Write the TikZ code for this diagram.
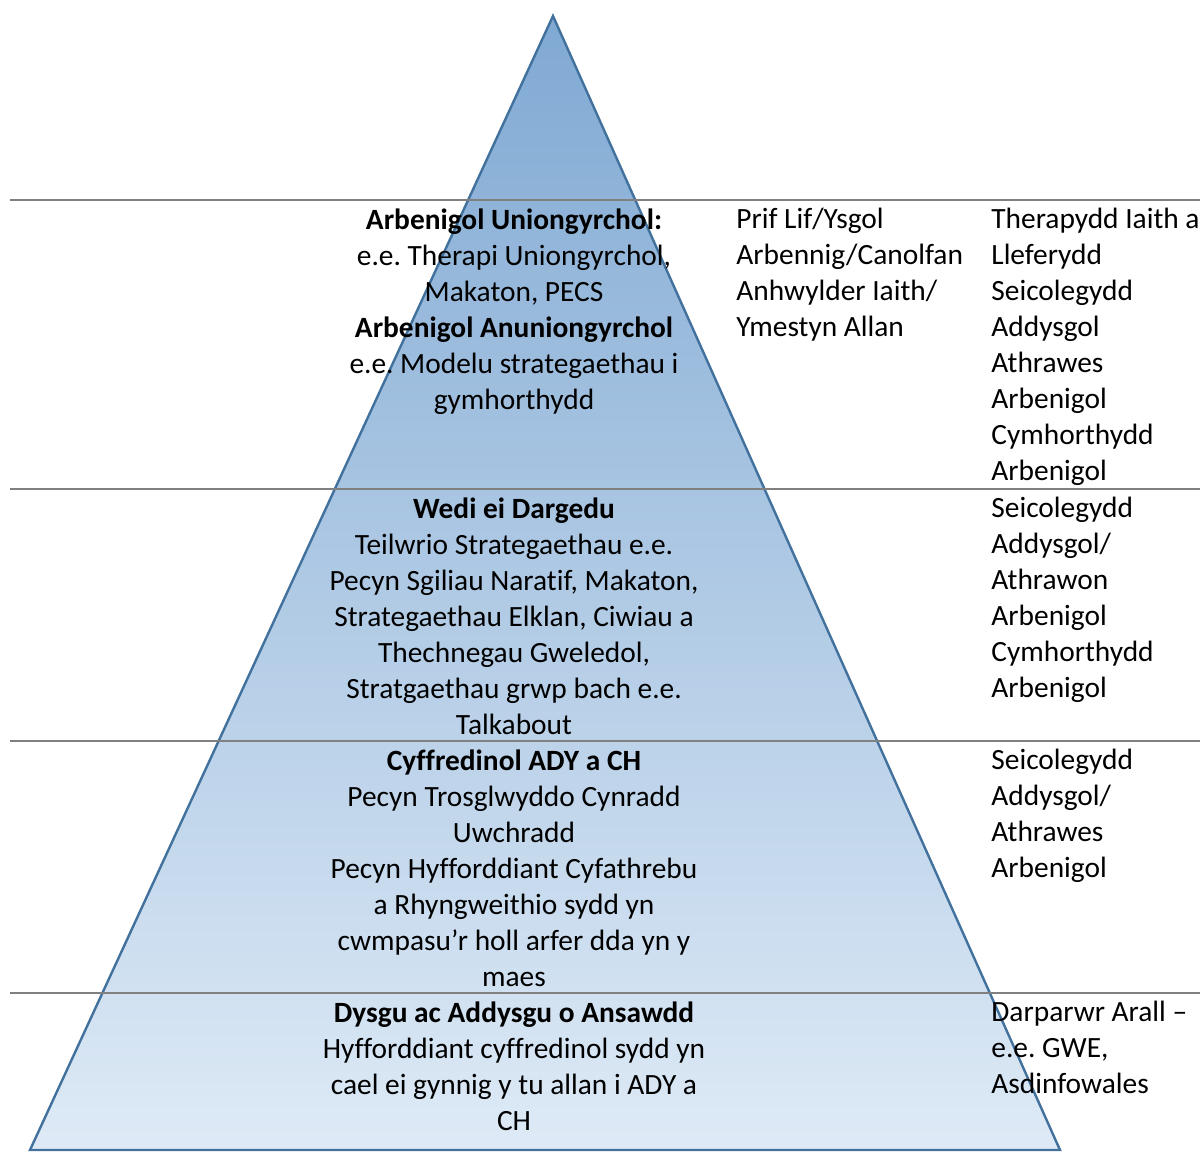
\documentclass[tikz,border=0pt]{standalone}
\usepackage{fontspec}
\setmainfont{Carlito}[Ligatures=NoCommon]
\usepackage{xcolor}
\usepackage{tikz}
\frenchspacing

\definecolor{pyrtop}{HTML}{80A9D3}
\definecolor{pyrbottom}{HTML}{DEEAF6}
\definecolor{pyredge}{HTML}{41719C}
\definecolor{rulegray}{HTML}{808080}

\begin{document}
\begin{tikzpicture}[
    x=0.5pt, y=-0.5pt,
    tier/.style={align=center, anchor=north, inner sep=0pt, font=\fontsize{14.7}{18}\selectfont},
    side/.style={align=left, anchor=north west, inner sep=0pt, font=\fontsize{14.7}{18}\selectfont},
    rowline/.style={draw=rulegray, line width=1pt}
]
\useasboundingbox (0,0) rectangle (1200,1160);
% pyramid
\coordinate (apex) at (553,16);
\coordinate (baseL) at (30,1150);
\coordinate (baseR) at (1060,1150);
\draw[pyredge, line width=1.2pt, top color=pyrtop, bottom color=pyrbottom] (apex) -- (baseR) -- (baseL) -- cycle;
% row rules
\foreach \y/\n in {200/a, 489/b, 741/c, 993/d} {
    \coordinate (rule\n L) at (10,\y);
    \coordinate (rule\n R) at (1200,\y);
    \draw[rowline] (rule\n L) -- (rule\n R);
}
% row 1
\node[tier] (specialist) at (514,208) {\textbf{Arbenigol Uniongyrchol:}\\e.e. Therapi Uniongyrchol,\\Makaton, PECS\\\textbf{Arbenigol Anuniongyrchol}\\e.e. Modelu strategaethau i\\gymhorthydd};
\node[side] (setting) at (736,208) {Prif Lif/Ysgol\\Arbennig/Canolfan\\Anhwylder Iaith/\\Ymestyn Allan};
\node[side] (staffa) at (991,208) {Therapydd Iaith a\\Lleferydd\\Seicolegydd\\Addysgol\\Athrawes\\Arbenigol\\Cymhorthydd\\Arbenigol};
% row 2
\node[tier] (targeted) at (514,497) {\textbf{Wedi ei Dargedu}\\Teilwrio Strategaethau e.e.\\Pecyn Sgiliau Naratif, Makaton,\\Strategaethau Elklan, Ciwiau a\\Thechnegau Gweledol,\\Stratgaethau grwp bach e.e.\\Talkabout};
\node[side] (staffb) at (991,497) {Seicolegydd\\Addysgol/\\Athrawon\\Arbenigol\\Cymhorthydd\\Arbenigol};
% row 3
\node[tier] (universal) at (514,749) {\textbf{Cyffredinol ADY a CH}\\Pecyn Trosglwyddo Cynradd\\Uwchradd\\Pecyn Hyfforddiant Cyfathrebu\\a Rhyngweithio sydd yn\\cwmpasu’r holl arfer dda yn y\\maes};
\node[side] (staffc) at (991,749) {Seicolegydd\\Addysgol/\\Athrawes\\Arbenigol};
% row 4
\node[tier] (quality) at (514,1001) {\textbf{Dysgu ac Addysgu o Ansawdd}\\Hyfforddiant cyffredinol sydd yn\\cael ei gynnig y tu allan i ADY a\\CH};
\node[side] (staffd) at (991,1001) {Darparwr Arall –\\e.e. GWE,\\Asdinfowales};
\end{tikzpicture}
\end{document}
